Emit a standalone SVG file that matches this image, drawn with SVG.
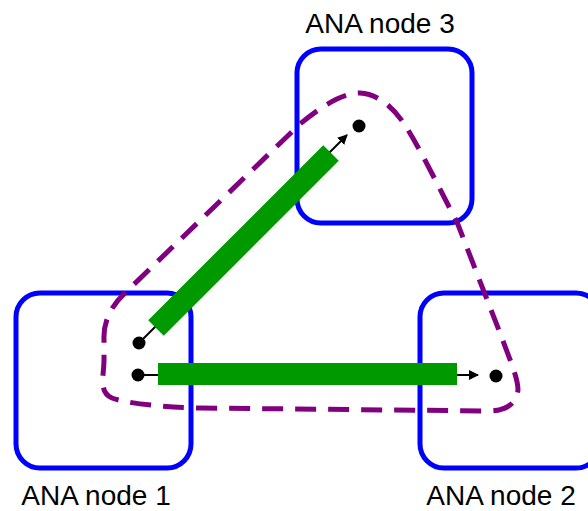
<svg xmlns="http://www.w3.org/2000/svg" width="588" height="511" viewBox="0 0 588 511">
<style>
.box{fill:none;stroke:#0000ff;stroke-width:5}
.lbl{font-family:"Liberation Sans",Arial,sans-serif;font-size:28px;fill:#000;text-anchor:middle}
.link{stroke:#000;stroke-width:2;fill:none}
.bar{stroke:#009900;stroke-width:22;fill:none}
.dot{fill:#000}
.area{fill:none;stroke:#800080;stroke-width:5;stroke-dasharray:21 12}
</style>
<defs>
<marker id="arr" markerWidth="10" markerHeight="10" refX="9" refY="5" orient="auto" markerUnits="userSpaceOnUse">
<path d="M0,0 L10,5 L0,10 Z" fill="#000"/>
</marker>
</defs>
<g id="node1">
<rect class="box" x="16" y="293" width="175" height="175" rx="24"/>
<text class="lbl" x="96" y="505">ANA node 1</text>
</g>
<g id="node2">
<rect class="box" x="420" y="293" width="180" height="175" rx="24"/>
<text class="lbl" x="501" y="505">ANA node 2</text>
</g>
<g id="node3">
<rect class="box" x="297" y="49" width="175" height="174" rx="24"/>
<text class="lbl" x="380" y="33">ANA node 3</text>
</g>
<g id="area">
<path class="area" d="M104,340 C103,318 114,303 127,291 L300,124 C322,106 342,93 360,93 C380,94 395,110 405,125 C422,152 440,190 457,222 L500,333 C510,360 518,378 518,390 C516,405 505,411 488,411 L200,408 C160,407 125,403 112,398 C98,392 104,375 104,360 Z"/>
</g>
<g id="connectors">
<line class="link" x1="139" y1="343" x2="347" y2="135" marker-end="url(#arr)"/>
<line class="link" x1="138" y1="375" x2="478" y2="375" marker-end="url(#arr)"/>
<line class="bar" x1="156" y1="328" x2="331" y2="153"/>
<line class="bar" x1="158" y1="374" x2="457" y2="374"/>
<circle class="dot" cx="139" cy="343" r="6.5"/>
<circle class="dot" cx="138" cy="375" r="6.5"/>
<circle class="dot" cx="359" cy="126" r="6.5"/>
<circle class="dot" cx="496" cy="376" r="6.5"/>
</g>
</svg>
